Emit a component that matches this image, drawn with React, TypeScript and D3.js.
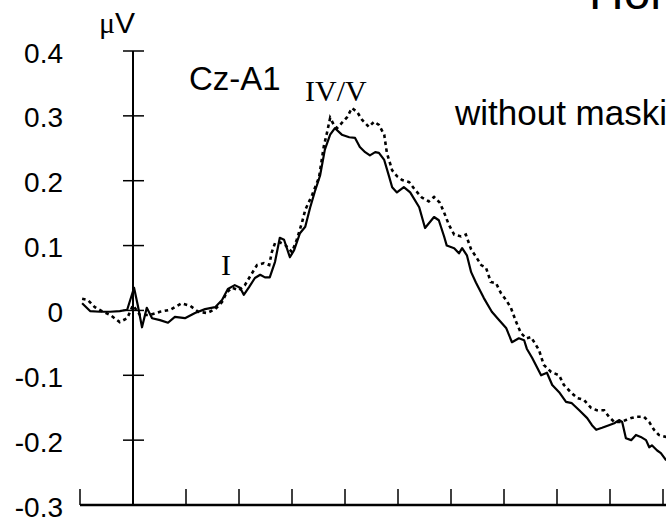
import React from "react";
import * as d3 from "d3";

// Solid trace (time in ms, amplitude in µV)
const solidT = [-0.96,-0.81,-0.62,-0.43,-0.25,-0.11,0.02,0.09,0.17,0.26,0.36,0.51,0.66,0.79,0.98,1.17,1.36,1.55,1.68,1.79,1.92,2.02,2.09,2.19,2.30,2.40,2.49,2.58,2.68,2.77,2.85,2.96,3.04,3.15,3.25,3.34,3.43,3.53,3.62,3.72,3.81,3.94,4.08,4.19,4.28,4.38,4.47,4.57,4.64,4.74,4.83,4.89,4.98,5.11,5.23,5.40,5.51,5.68,5.77,5.87,5.92,6.06,6.15,6.21,6.30,6.38,6.47,6.62,6.77,6.91,7.04,7.15,7.28,7.38,7.43,7.53,7.70,7.81,7.91,8.04,8.17,8.28,8.42,8.57,8.66,8.74,8.85,8.98,9.08,9.17,9.23,9.30,9.40,9.49,9.58,9.68,9.74,9.79,9.89,9.96,10.06];
const solidV = [0.011,-0.001,-0.002,-0.002,-0.001,0.001,0.035,0.008,-0.026,0.004,-0.012,-0.015,-0.019,-0.010,-0.012,-0.004,0.002,0.005,0.016,0.033,0.039,0.035,0.024,0.036,0.050,0.055,0.051,0.051,0.075,0.112,0.109,0.082,0.093,0.119,0.129,0.158,0.183,0.208,0.248,0.271,0.281,0.271,0.267,0.266,0.252,0.244,0.239,0.244,0.243,0.232,0.207,0.190,0.182,0.190,0.182,0.159,0.127,0.144,0.139,0.114,0.100,0.096,0.088,0.096,0.085,0.059,0.043,0.019,-0.002,-0.015,-0.027,-0.049,-0.043,-0.046,-0.059,-0.073,-0.100,-0.096,-0.115,-0.126,-0.141,-0.143,-0.154,-0.166,-0.177,-0.184,-0.181,-0.177,-0.174,-0.169,-0.172,-0.197,-0.200,-0.192,-0.195,-0.200,-0.211,-0.208,-0.216,-0.220,-0.231];

// Dotted trace
const dottedT = [-0.96,-0.85,-0.72,-0.57,-0.43,-0.25,-0.11,0.00,0.13,0.32,0.51,0.70,0.92,1.08,1.23,1.40,1.55,1.68,1.77,1.87,2.00,2.11,2.25,2.34,2.47,2.57,2.62,2.68,2.77,2.87,3.00,3.09,3.19,3.25,3.38,3.51,3.60,3.66,3.72,3.79,3.85,3.94,4.04,4.13,4.23,4.32,4.45,4.55,4.64,4.74,4.79,4.89,4.98,5.08,5.21,5.32,5.45,5.58,5.68,5.79,5.87,5.96,6.06,6.19,6.28,6.38,6.47,6.57,6.66,6.75,6.85,6.94,7.04,7.13,7.23,7.32,7.42,7.51,7.60,7.66,7.75,7.89,8.04,8.13,8.26,8.38,8.51,8.64,8.75,8.89,8.98,9.08,9.21,9.30,9.40,9.51,9.64,9.74,9.83,9.92,10.06];
const dottedV = [0.018,0.016,0.005,-0.002,-0.007,-0.018,-0.012,0.008,-0.007,-0.007,-0.002,0.001,0.011,0.007,-0.002,-0.004,0.002,0.013,0.028,0.035,0.031,0.039,0.058,0.070,0.073,0.070,0.090,0.104,0.105,0.101,0.090,0.109,0.136,0.155,0.178,0.205,0.253,0.274,0.297,0.286,0.281,0.289,0.298,0.312,0.306,0.294,0.283,0.291,0.286,0.271,0.243,0.216,0.207,0.201,0.198,0.186,0.174,0.168,0.175,0.166,0.151,0.132,0.117,0.114,0.117,0.094,0.083,0.070,0.066,0.044,0.042,0.027,0.016,0.004,-0.018,-0.035,-0.043,-0.041,-0.053,-0.061,-0.084,-0.095,-0.100,-0.115,-0.126,-0.135,-0.138,-0.150,-0.154,-0.154,-0.164,-0.172,-0.172,-0.169,-0.166,-0.164,-0.164,-0.172,-0.184,-0.192,-0.195];

const xTickValues = [-1, 0, 1, 2, 3, 4, 5, 6, 7, 8, 9, 10];
const yTickValues = [0.4, 0.3, 0.2, 0.1, 0, -0.1, -0.2];
const yLabelValues = [0.4, 0.3, 0.2, 0.1, 0, -0.1, -0.2, -0.3];
const yLabelTexts = ["0.4", "0.3", "0.2", "0.1", "0", "-0.1", "-0.2", "-0.3"];

const W = 666;
const H = 523;

export default function App() {
  const x = d3.scaleLinear().domain([-1, 10]).range([80, 663]);
  const y = d3.scaleLinear().domain([-0.3, 0.4]).range([505, 51]);
  const line = d3
    .line<[number, number]>()
    .x((d) => x(d[0]))
    .y((d) => y(d[1]));
  const solid = solidT.map((t, i) => [t, solidV[i]] as [number, number]);
  const dotted = dottedT.map((t, i) => [t, dottedV[i]] as [number, number]);
  const sans = "'Liberation Sans', Arial, sans-serif";
  const serif = "'Liberation Serif', 'Times New Roman', serif";
  const x0 = x(0);

  return (
    <svg
      width={W}
      height={H}
      style={{ position: "fixed", left: 0, top: 0, background: "#fff" }}
    >
      <rect x={0} y={0} width={W} height={H} fill="#fff" />
      {/* title, cut off at top right */}
      <text x={589} y={9} fontFamily={sans} fontSize={48} fill="#000">
        Horizontal
      </text>
      {/* unit label */}
      <text x={99} y={33} fontSize={30} fill="#000">
        <tspan fontFamily={serif}>μ</tspan>
        <tspan fontFamily={sans}>V</tspan>
      </text>
      {/* y tick labels */}
      {yLabelValues.map((v, i) => (
        <text
          key={i}
          x={63}
          y={y(v) + 2}
          textAnchor="end"
          dominantBaseline="central"
          fontFamily={sans}
          fontSize={28}
          fill="#000"
        >
          {yLabelTexts[i]}
        </text>
      ))}
      {/* y axis */}
      <line x1={x0} x2={x0} y1={y(0.4)} y2={y(-0.3)} stroke="#000" strokeWidth={2} />
      {yTickValues.map((v) => (
        <line key={v} x1={x0 - 10} x2={x0 + 11} y1={y(v)} y2={y(v)} stroke="#000" strokeWidth={1.5} />
      ))}
      {/* x axis */}
      <line x1={x(-1)} x2={W} y1={y(-0.3)} y2={y(-0.3)} stroke="#000" strokeWidth={2.5} />
      {xTickValues.map((t) => (
        <line key={t} x1={x(t)} x2={x(t)} y1={y(-0.3)} y2={y(-0.3) - 16} stroke="#000" strokeWidth={1.5} />
      ))}
      {/* traces */}
      <path d={line(dotted) || ""} fill="none" stroke="#000" strokeWidth={2.6} strokeDasharray="3.5 3.5" />
      <path d={line(solid) || ""} fill="none" stroke="#000" strokeWidth={2.2} strokeLinejoin="round" />
      {/* annotations */}
      <text x={189} y={90} fontFamily={sans} fontSize={33} fill="#000">Cz-A1</text>
      <text x={305} y={101} fontFamily={serif} fontSize={30} fill="#000">IV/V</text>
      <text x={221} y={275} fontFamily={serif} fontSize={30} fill="#000">I</text>
      <text x={455} y={125} fontFamily={sans} fontSize={35} fill="#000">without masking</text>
    </svg>
  );
}
